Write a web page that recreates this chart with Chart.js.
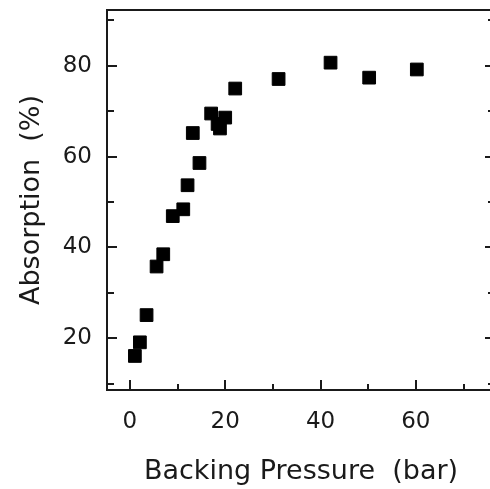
<!DOCTYPE html>
<html lang="en">
<head>
    <meta charset="UTF-8">
    <title>Absorption vs Backing Pressure</title>
    <style>
        html, body {
            margin: 0;
            padding: 0;
            overflow: hidden;
            background: #fff;
        }
        .clip {
            width: 490px;
            height: 489px;
            overflow: hidden;
        }
        canvas {
            display: block;
        }
    </style>
</head>
<body>
    <div class="clip"><canvas id="chart" width="500" height="489"></canvas></div>
    <script src="https://cdn.jsdelivr.net/npm/chart.js"></script>
    <script>
        // data
        const pressure   = [1.05, 2.1, 3.5, 5.6, 7.0, 9.0, 11.2, 12.1, 13.2, 14.6, 17.05, 18.4, 18.9, 20.0, 22.1, 31.2, 42.1, 50.2, 60.2];
        const absorption = [16.1, 19.1, 25.1, 35.8, 38.5, 46.9, 48.4, 53.7, 65.2, 58.6, 69.5, 67.2, 66.2, 68.6, 75.0, 77.1, 80.7, 77.4, 79.2];
        const xLabels = [0, 20, 40, 60];
        const yLabels = [20, 40, 60, 80];

        const ink = '#1a1a1a';

        // box frame + inward ticks on left, bottom and right
        const frameTicks = {
            id: 'frameTicks',
            afterDraw(chart) {
                const { ctx, chartArea: a, scales: { x, y } } = chart;
                ctx.save();
                ctx.strokeStyle = ink;
                ctx.lineWidth = 2;
                ctx.strokeRect(a.left, a.top, a.right - a.left, a.bottom - a.top);
                ctx.beginPath();
                x.ticks.forEach(t => {
                    const px = Math.round(x.getPixelForValue(t.value));
                    const len = xLabels.includes(t.value) ? 10 : 6;
                    ctx.moveTo(px, a.bottom);
                    ctx.lineTo(px, a.bottom - len);
                });
                y.ticks.forEach(t => {
                    const py = Math.round(y.getPixelForValue(t.value));
                    const len = yLabels.includes(t.value) ? 10 : 7;
                    ctx.moveTo(a.left, py);
                    ctx.lineTo(a.left + len, py);
                    ctx.moveTo(a.right, py);
                    ctx.lineTo(a.right - len, py);
                });
                ctx.stroke();
                ctx.restore();
            }
        };

        new Chart(document.getElementById('chart'), {
            type: 'scatter',
            data: {
                datasets: [{
                    data: pressure.map((p, i) => ({ x: p, y: absorption[i] })),
                    pointStyle: 'rect',
                    pointRadius: 9,
                    pointHoverRadius: 9,
                    backgroundColor: '#000',
                    borderColor: '#000',
                    borderWidth: 1
                }]
            },
            options: {
                responsive: false,
                animation: false,
                layout: { autoPadding: false, padding: { top: 10, right: 5, left: 0, bottom: 0 } },
                plugins: { legend: { display: false }, tooltip: { enabled: false } },
                scales: {
                    x: {
                        type: 'linear',
                        min: -4.8,
                        max: 76.6,
                        afterFit: s => { s.height = 99; s.paddingLeft = 0; s.paddingRight = 0; },
                        grid: { display: false, drawTicks: false },
                        border: { display: false },
                        ticks: {
                            stepSize: 10,
                            includeBounds: false,
                            autoSkip: false,
                            maxRotation: 0,
                            padding: 18,
                            color: ink,
                            font: { family: 'DejaVu Sans', size: 23 },
                            callback: v => xLabels.includes(v) ? v : ''
                        },
                        title: {
                            display: true,
                            text: 'Backing Pressure  (bar)',
                            color: ink,
                            font: { family: 'DejaVu Sans', size: 27 },
                            padding: { top: 0, bottom: 1 }
                        }
                    },
                    y: {
                        min: 8.6,
                        max: 92.3,
                        afterFit: s => { s.width = 107; s.paddingTop = 0; s.paddingBottom = 0; },
                        grid: { display: false, drawTicks: false },
                        border: { display: false },
                        ticks: {
                            stepSize: 10,
                            includeBounds: false,
                            autoSkip: false,
                            padding: 15,
                            color: ink,
                            font: { family: 'DejaVu Sans', size: 23 },
                            callback: v => yLabels.includes(v) ? v : ''
                        },
                        title: {
                            display: true,
                            text: 'Absorption  (%)',
                            color: ink,
                            font: { family: 'DejaVu Sans', size: 27 },
                            padding: { top: 16, bottom: 0 }
                        }
                    }
                }
            },
            plugins: [frameTicks]
        });
    </script>
</body>
</html>
